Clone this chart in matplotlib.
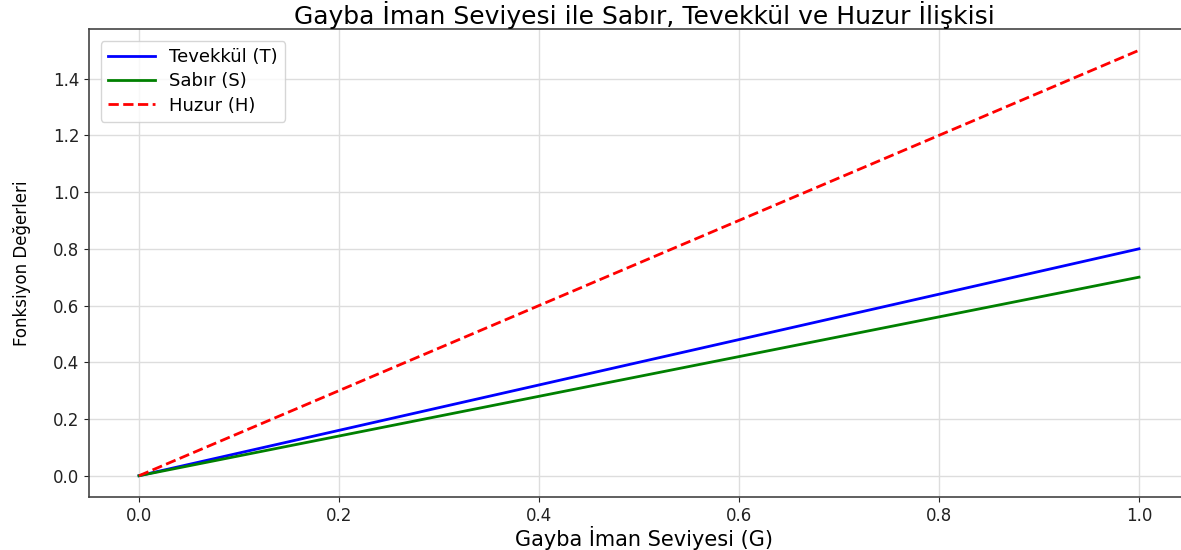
import matplotlib
matplotlib.use("Agg")
import matplotlib.pyplot as plt

plt.rcParams["font.family"] = ["DejaVu Sans"]

# Gayba iman seviyesi ve fonksiyon değerleri (okunan uç noktalar)
G = [0.0, 1.0]
tevekkul = [0.0, 0.8]
sabir = [0.0, 0.7]
huzur = [0.0, 1.5]

fig = plt.figure(figsize=(11.81, 5.5), dpi=100)
# sağ kenar resmin dışına taşıyor (referansta kırpılmış)
ax = fig.add_axes([89 / 1181, 53 / 550, 1110 / 1181, 468 / 550])

ax.plot(G, tevekkul, color="blue", linewidth=2, label="Tevekkül (T)")
ax.plot(G, sabir, color="green", linewidth=2, label="Sabır (S)")
ax.plot(G, huzur, color="red", linewidth=2, linestyle="--", label="Huzur (H)")

ax.set_xlim(-0.05, 1.06)
ax.set_ylim(-0.075, 1.575)
ax.set_xticks([0.0, 0.2, 0.4, 0.6, 0.8, 1.0])
ax.set_yticks([0.0, 0.2, 0.4, 0.6, 0.8, 1.0, 1.2, 1.4])
ax.tick_params(labelsize=12, colors="#222222")
for s in ax.spines.values():
    s.set_color("#444444")
    s.set_linewidth(1.2)
ax.spines["right"].set_visible(False)

ax.set_title("Gayba İman Seviyesi ile Sabır, Tevekkül ve Huzur İlişkisi",
             fontsize=18, pad=3)
ax.set_xlabel("Gayba İman Seviyesi (G)", fontsize=15, labelpad=1)
ax.set_ylabel("Fonksiyon Değerleri", fontsize=12)
ax.yaxis.set_label_coords(-0.052, 0.5)
ax.grid(True, color="#dddddd", linewidth=1)
ax.legend(loc="upper left", fontsize=13, handlelength=2.6,
          labelspacing=0.35, borderaxespad=0.4,
          bbox_to_anchor=(0.004, 0.99))

fig.savefig("out.png", dpi=100)
